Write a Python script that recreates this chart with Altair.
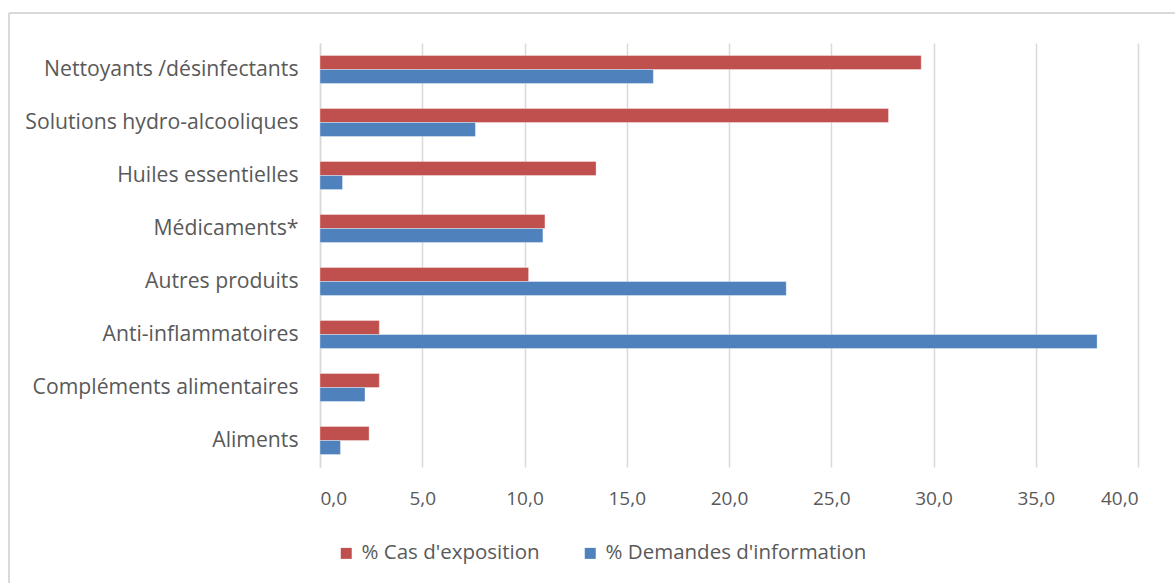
import altair as alt
import pandas as pd

categories = ["Nettoyants /désinfectants", "Solutions hydro-alcooliques", "Huiles essentielles",
              "Médicaments*", "Autres produits", "Anti-inflammatoires",
              "Compléments alimentaires", "Aliments"]
series_names = ["% Cas d'exposition", "% Demandes d'information"]
cas_exposition = [29.4, 27.8, 13.5, 11.0, 10.2, 2.9, 2.9, 2.4]
demandes_info = [16.3, 7.6, 1.1, 10.9, 22.8, 38.0, 2.2, 1.0]
x_ticks = [0, 5, 10, 15, 20, 25, 30, 35, 40]
colors = ["#C0504D", "#4F81BD"]

rows = []
for c, a, b in zip(categories, cas_exposition, demandes_info):
    rows.append({"cat": c, "serie": series_names[0], "val": a})
    rows.append({"cat": c, "serie": series_names[1], "val": b})
df = pd.DataFrame(rows)

FONT = "Open Sans"
GREY = "#595959"

bars = alt.Chart(df).mark_bar(stroke="white", strokeOpacity=0.35, strokeWidth=1).encode(
    x=alt.X("val:Q", scale=alt.Scale(domain=[0, 40], nice=False),
            axis=alt.Axis(values=x_ticks, title=None, grid=True, gridColor="#D9D9D9",
                          gridWidth=1.5, domain=False, ticks=False, labelPadding=22,
                          labelExpr="replace(format(datum.value, '.1f'), '.', ',')",
                          labelFont=FONT, labelFontSize=19, labelColor=GREY)),
    y=alt.Y("cat:N", sort=categories,
            scale=alt.Scale(paddingInner=0.47, paddingOuter=0.235),
            axis=alt.Axis(title=None, ticks=False, domain=True, domainColor="#D9D9D9",
                          domainWidth=1.5, labelPadding=22, labelFont=FONT,
                          labelFontSize=21.2, labelColor=GREY, labelLimit=400)),
    yOffset=alt.YOffset("serie:N", sort=series_names),
    color=alt.Color("serie:N", sort=series_names,
                    scale=alt.Scale(domain=series_names, range=colors),
                    legend=alt.Legend(title=None, orient="none", legendX=16, legendY=500,
                                      direction="horizontal", columns=2, columnPadding=40,
                                      symbolType="square", symbolSize=121, symbolStrokeWidth=0,
                                      labelFont=FONT, labelFontSize=20.5, labelColor=GREY,
                                      labelOffset=5, labelLimit=400)),
)

frame_data = alt.Data(values=[{"k": 1}])
left_line = alt.Chart(frame_data).mark_rule(color="#D9D9D9", strokeWidth=2).encode(
    x=alt.value(-311), y=alt.value(-30), y2=alt.value(560))
top_line = alt.Chart(frame_data).mark_rule(color="#D9D9D9", strokeWidth=2).encode(
    x=alt.value(-311), x2=alt.value(900), y=alt.value(-30))

chart = alt.layer(bars, left_line, top_line).properties(
    width=818, height=424,
    padding={"left": 320, "top": 43, "right": 37, "bottom": 116},
    autosize=alt.AutoSizeParams(type="none"),
    background="white",
).configure_view(stroke=None)

chart.save("out.html", embed_options={"renderer": "svg", "actions": False})
